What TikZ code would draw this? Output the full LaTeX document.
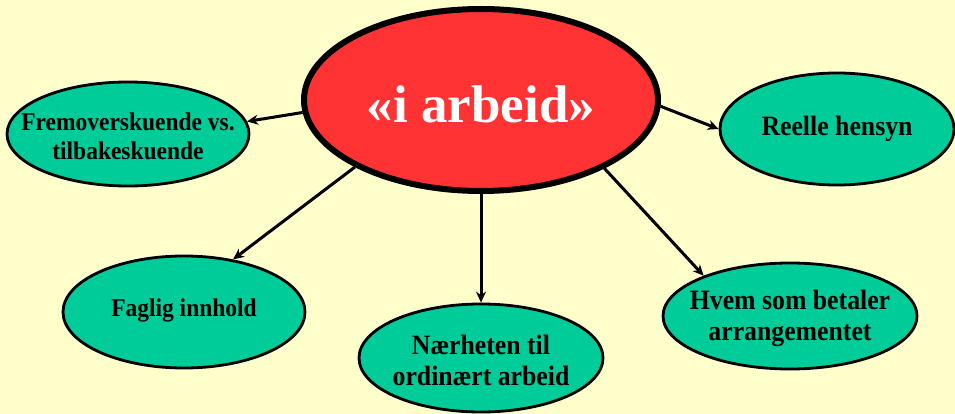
\documentclass[tikz,border=0pt]{standalone}
\usepackage{fontspec}
\setmainfont{Liberation Serif}
\newfontfamily\condfont[FakeStretch=0.92]{Liberation Serif}
\usetikzlibrary{shapes.geometric,arrows.meta}
\definecolor{bgyellow}{HTML}{FFFFCC}
\definecolor{teal}{HTML}{00CC99}
\definecolor{redfill}{HTML}{FF3333}
\tikzset{
  bubble/.style={ellipse, draw=black, line width=2.8pt, fill=teal, inner sep=0pt},
  hub/.style={ellipse, draw=black, line width=6pt, fill=redfill, inner sep=0pt},
  label/.style={align=center, font=\condfont\bfseries\fontsize{25.5}{29}\selectfont, inner sep=0pt},
  biglabel/.style={align=center, font=\condfont\bfseries\fontsize{28}{31}\selectfont, inner sep=0pt},
  conn/.style={line width=3pt, -{Stealth[length=11pt,width=10pt]}}
}
\begin{document}
\begin{tikzpicture}[x=1pt,y=-1pt]
\fill[bgyellow] (0,0) rectangle (955,414);
\useasboundingbox (0,0) rectangle (955,414);

\node[hub, minimum width=354pt, minimum height=182pt] (c) at (481,100) {};
\node[bubble, minimum width=242pt, minimum height=104pt] (fr) at (128,134) {};
\node[bubble, minimum width=234pt, minimum height=112pt] (re) at (837,129) {};
\node[bubble, minimum width=242pt, minimum height=112pt] (fa) at (184,312) {};
\node[bubble, minimum width=244pt, minimum height=108pt] (nh) at (481,358) {};
\node[bubble, minimum width=254pt, minimum height=106pt] (hv) at (790,316) {};

\node[align=center, font=\bfseries\fontsize{53}{60}\selectfont, text=white, inner sep=0pt] (ct) at ([yshift=-4pt]c.center) {«i arbeid»};
\node[label] (frt) at ([yshift=-2pt]fr.center) {Fremoverskuende vs.\\tilbakeskuende};
\node[biglabel] (ret) at ([yshift=0pt]re.center) {Reelle hensyn};
\node[label] (fat) at ([yshift=2pt]fa.center) {Faglig innhold};
\node[biglabel] (nht) at ([yshift=-2pt]nh.center) {Nærheten til\\ordinært arbeid};
\node[biglabel] (hvt) at ([yshift=-2pt]hv.center) {Hvem som betaler\\arrangementet};

\draw[conn] (c.184) -- (fr.6);
\draw[conn] (c.-2) -- (re.180);
\draw[conn] (c.208) -- (fa.47);
\draw[conn] (c.south) -- (nh.north);
\draw[conn] (c.331) -- (hv.155);
\end{tikzpicture}
\end{document}
